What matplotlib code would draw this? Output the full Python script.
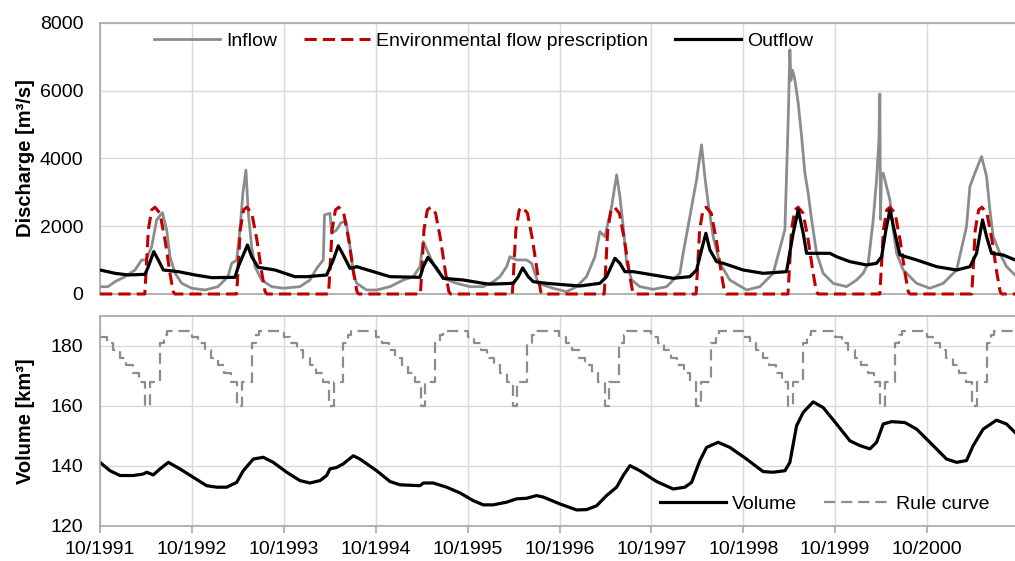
import matplotlib
matplotlib.use("Agg")
import matplotlib.pyplot as plt
import pandas as pd
import numpy as np

# ---------------- data (x in months since 10/1991) ----------------
INFLOW_M = [0.0, 1.04, 1.96, 3.26, 4.57, 5.45, 6.01, 6.75, 7.40, 8.15, 8.71, 9.14, 9.79, 10.67, 11.97,
            13.71, 15.41, 16.71, 17.20, 17.85, 18.28, 18.67, 19.06, 19.37, 19.81, 20.24, 21.11, 22.42, 23.90,
            26.12, 27.42, 28.30, 29.16, 29.32, 30.03, 30.26, 30.91, 31.47, 32.12, 32.65, 33.08, 33.52, 34.83,
            36.13, 37.87, 39.61, 40.91, 41.79, 42.22, 43.09, 43.97, 44.83, 46.58, 48.31,
            50.05, 51.36, 52.23, 53.11, 53.54, 54.41, 55.72, 56.37, 56.80, 57.23, 59.19,
            60.94, 62.24, 63.54, 64.64, 65.29, 65.94, 66.82, 67.47, 67.90, 68.33, 68.78, 69.43, 70.51, 72.25,
            74.00, 74.86, 75.73, 76.16, 77.03, 77.91, 78.56, 78.99, 79.43, 80.08, 80.96, 82.26, 84.44,
            86.18, 87.92, 89.45, 89.88, 90.10, 90.23, 90.43, 90.69, 91.19, 91.63, 92.06, 92.49, 92.94, 93.59,
            94.45, 95.75, 97.50, 98.81, 99.67, 100.33, 100.98, 101.42, 101.72, 101.85, 101.93, 102.05, 102.29,
            102.73, 103.16, 103.60, 104.04, 104.90, 106.65, 108.38, 110.12, 111.87, 113.17, 113.61, 114.26,
            115.13, 115.79, 116.22, 116.65, 117.52, 118.40, 119.50]
INFLOW_V = [215, 215, 363, 511, 708, 1004, 1004, 1397, 2185, 2400, 1890, 1100, 620, 315, 170,
            118, 216, 511, 906, 1004, 1890, 3000, 3650, 2382, 1397, 806, 413, 216, 170,
            216, 413, 757, 1004, 2332, 2382, 1792, 1890, 2100, 2150, 1397, 610, 315, 118,
            118, 216, 413, 511, 806, 1545, 1100, 708, 463, 315, 216,
            216, 363, 511, 806, 1100, 1004, 1004, 906, 610, 315, 168,
            68, 216, 511, 1100, 1840, 1692, 2577, 3513, 2872, 1987, 906, 413, 216, 138,
            216, 413, 610, 1200, 2283, 3365, 4398, 3463, 2677, 1692, 906, 413, 118,
            216, 610, 1900, 5136, 7200, 6300, 6600, 6400, 5630, 4645, 3563, 2972, 2185, 1200,
            610, 315, 216, 413, 610, 906, 2185, 3365, 4500, 5900, 2200, 3500, 3563,
            3168, 2775, 1890, 1200, 708, 315, 168, 315, 708, 1987, 3168, 3563,
            4053, 3463, 2480, 1692, 1200, 806, 560]

OUTFLOW_M = [0, 1.96, 3.70, 5.88, 6.31, 7.02, 7.61, 8.27, 10.22, 12.41, 14.59, 17.63, 18.06, 19.26,
             19.81, 20.67, 22.85, 25.46, 26.99, 29.60, 30.47, 31.12, 31.77, 32.65, 33.52, 35.69, 37.87,
             41.79, 42.22, 42.83, 43.97, 44.83, 47.44, 50.05, 50.93, 53.97, 54.63, 55.20, 55.93, 56.58,
             58.33, 60.94, 62.68, 65.29, 66.16, 67.25, 67.90, 68.55, 69.64, 72.25, 74.86, 77.03, 77.91,
             78.56, 79.13, 79.65, 80.53, 81.39, 84.00, 86.61, 89.66, 90.53, 91.19, 91.84, 92.28, 95.32,
             96.20, 97.94, 100.12, 101.42, 102.08, 102.64, 103.16, 103.82, 104.47, 106.65, 109.26, 111.87,
             113.61, 114.48, 115.26, 115.79, 116.44, 117.95, 119.50]
OUTFLOW_V = [708, 610, 561, 580, 806, 1250, 1004, 708, 659, 561, 482, 492, 806, 1446,
             1100, 787, 708, 511, 511, 561, 1004, 1420, 1151, 757, 806, 659, 511,
             492, 806, 1080, 757, 463, 413, 315, 290, 315, 511, 770, 511, 363,
             315, 266, 236, 315, 511, 1053, 906, 659, 659, 561, 463, 511, 708,
             1300, 1790, 1300, 954, 906, 708, 610, 659, 1792, 2480, 1792, 1200, 1200,
             1100, 954, 856, 906, 1100, 1890, 2480, 1792, 1151, 1004, 806, 708,
             806, 1200, 2185, 1692, 1200, 1151, 1004]

# environmental flow prescription: identical pulse every year (months after October)
ENV_PULSE_M = [5.85, 6.10, 6.31, 6.75, 7.18, 7.83, 8.49, 9.14, 9.56, 9.79]
ENV_PULSE_V = [0, 1000, 1890, 2480, 2560, 2380, 1594, 610, 68, 0]

VOLUME_M = [0, 1.31, 2.61, 4.35, 5.65, 6.10, 6.96, 7.83, 8.92, 10.45, 12.18, 13.93, 15.24, 16.54,
            17.85, 18.71, 20.02, 21.32, 22.63, 24.38, 26.12, 27.42, 28.73, 29.60, 30.03, 30.91, 31.77,
            33.08, 33.95, 36.13, 37.87, 39.17, 41.79, 42.22, 43.52, 45.27, 47.01, 48.75, 50.05, 51.36,
            53.11, 54.41, 55.72, 57.02, 57.89, 60.07, 62.25, 63.54, 64.86, 66.16, 67.47, 68.33, 69.21,
            70.51, 72.69, 74.86, 76.39, 77.26, 78.35, 79.22, 80.73, 82.26, 84.44, 86.61, 87.92, 89.45,
            90.10, 90.97, 91.84, 93.14, 94.45, 96.20, 97.94, 99.24, 100.55, 101.42, 102.29, 103.38,
            105.12, 106.65, 108.81, 110.56, 111.87, 113.17, 114.04, 115.34, 117.09, 118.40, 119.50]
VOLUME_V = [141.1, 138.3, 136.7, 136.7, 137.2, 137.8, 136.9, 138.9, 141.1, 138.9, 136.1, 133.3, 132.8,
            132.8, 134.4, 138.3, 142.2, 142.8, 141.1, 137.8, 135.0, 134.2, 135.0, 136.7, 138.9, 139.4,
            140.6, 143.3, 142.2, 138.3, 134.7, 133.6, 133.3, 134.2, 134.2, 132.8, 130.9, 128.3, 126.9,
            126.9, 127.8, 128.9, 129.1, 130.0, 129.5, 127.2, 125.2, 125.3, 126.6, 130.0, 132.8, 136.7,
            140.0, 138.3, 134.7, 132.2, 132.8, 134.4, 141.7, 146.1, 147.8, 146.1, 142.2, 138.0, 137.8,
            138.3, 141.1, 153.3, 157.8, 161.3, 159.4, 153.9, 148.3, 146.7, 145.6, 147.8, 153.9, 154.7,
            154.4, 152.2, 146.7, 142.2, 141.1, 141.7, 146.7, 152.2, 155.2, 153.9, 151.1]

# rule curve: identical stepped pattern every year (months after October)
RULE_M = [0, 0.85, 1.7, 2.55, 3.4, 4.25, 5.1, 5.9, 6.5, 7.8, 8.4, 8.8]
RULE_V = [183, 181, 178.5, 176, 173.5, 171, 168, 160, 168, 181, 183.5, 185]

YEARS = list(range(1991, 2001))
TICK_LABELS = ["10/%d" % y for y in YEARS]

# ---------------- helpers ----------------
BASE = pd.Timestamp("1991-10-01")


def to_date(months):
    return BASE + pd.to_timedelta(np.asarray(months, dtype=float) * 30.4375, unit="D")


env_m, env_v = [0.0], [0]
rule_m, rule_v = [], []
for i in range(len(YEARS)):
    env_m += [12 * i + m for m in ENV_PULSE_M]
    env_v += ENV_PULSE_V
    rule_m += [12 * i + m for m in RULE_M]
    rule_v += RULE_V
env_m.append(119.5)
env_v.append(0)
rule_m.append(119.5)
rule_v.append(rule_v[-1])

FONT = "Liberation Sans"
plt.rcParams["font.family"] = [FONT, "DejaVu Sans"]

fig = plt.figure(figsize=(10.15, 5.61), dpi=100)
ax1 = fig.add_axes([100 / 1015, 1 - 294 / 561, 915 / 1015, (294 - 22.7) / 561])
ax2 = fig.add_axes([100 / 1015, 1 - 525.5 / 561, 915 / 1015, (525.5 - 316) / 561])

GRID = "#d9d9d9"
SPINE = "#a6a6a6"
xmin, xmax = to_date([0])[0], to_date([119.5])[0]
ticks = [pd.Timestamp("%d-10-01" % y) for y in YEARS]

for ax in (ax1, ax2):
    ax.set_xlim(xmin, xmax)
    ax.set_xticks(ticks)
    ax.grid(True, color=GRID, lw=1.0)
    ax.set_axisbelow(True)
    for s in ("top", "left", "bottom"):
        ax.spines[s].set_color(SPINE)
        ax.spines[s].set_linewidth(1.2)
    ax.spines["right"].set_visible(False)
    ax.tick_params(axis="y", length=0, pad=12, labelsize=14)

ax1.tick_params(axis="x", length=0, labelbottom=False)
ax2.tick_params(axis="x", length=5, width=1.2, color=SPINE, pad=6, labelsize=14)
ax2.set_xticklabels(TICK_LABELS)

# top panel
ax1.plot(to_date(INFLOW_M), INFLOW_V, color="#8c8c8c", lw=2.0, label="Inflow", zorder=2)
ax1.plot(to_date(env_m), env_v, color="#c00000", lw=2.2, dashes=(4, 2),
         label="Environmental flow prescription", clip_on=False, zorder=4)
ax1.plot(to_date(OUTFLOW_M), OUTFLOW_V, color="black", lw=2.3, label="Outflow", zorder=5)
ax1.set_ylim(0, 8000)
ax1.set_yticks([0, 2000, 4000, 6000, 8000])
ax1.set_ylabel("Discharge [m³/s]", fontsize=14.5, fontweight="bold")
ax1.yaxis.set_label_coords(-0.071, 0.5)
ax1.legend(loc="upper left", bbox_to_anchor=(0.059, 0.965), ncol=3, frameon=False,
           fontsize=14, handlelength=3.4, handletextpad=0.3, columnspacing=1.4,
           borderpad=0, borderaxespad=0)

# bottom panel
ax2.plot(to_date(VOLUME_M), VOLUME_V, color="black", lw=2.3, label="Volume")
ax2.plot(to_date(rule_m), rule_v, color="#8c8c8c", lw=1.6, dashes=(5, 2.7),
         drawstyle="steps-post", label="Rule curve")
ax2.set_ylim(120, 190)
ax2.set_yticks([120, 140, 160, 180])
ax2.set_ylabel("Volume [km³]", fontsize=14.5, fontweight="bold")
ax2.yaxis.set_label_coords(-0.071, 0.5)
ax2.legend(loc="lower right", bbox_to_anchor=(0.972, 0.06), ncol=2, frameon=False,
           fontsize=14, handlelength=3.4, handletextpad=0.3, columnspacing=1.4,
           borderpad=0, borderaxespad=0)

fig.savefig("out.png", dpi=100)
